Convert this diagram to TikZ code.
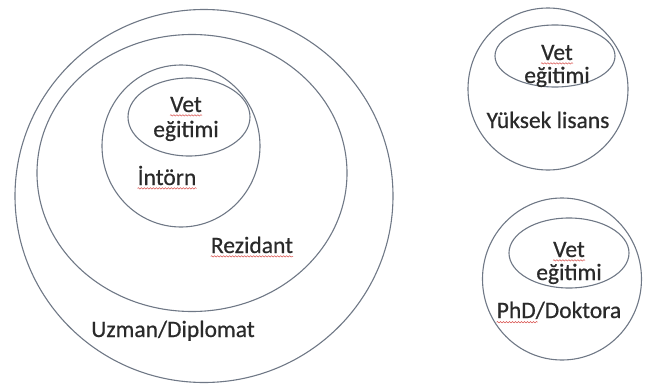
\documentclass[tikz,border=0pt]{standalone}
\usepackage{fontspec}
\setmainfont{Carlito}
\newfontfamily\lblfont{Carlito}[FakeBold=0.6]
\usetikzlibrary{shapes.geometric,decorations.pathmorphing}
\definecolor{ring}{HTML}{6F7886}
\definecolor{ink}{HTML}{2A2A2A}
\definecolor{squigred}{HTML}{D9534F}
\tikzset{
  ringshape/.style={ellipse, draw=ring, line width=1.1pt, inner sep=0pt},
  lbl/.style={font=\lblfont\fontsize{23.5}{25}\selectfont, text=ink, inner sep=0pt, anchor=base},
  squig/.style={draw=squigred, line width=0.5pt, decorate, decoration={snake, amplitude=0.7pt, segment length=3pt}}
}
\begin{document}
\begin{tikzpicture}[x=1pt,y=-1pt]
\useasboundingbox (0,0) rectangle (649,391);
% left nested rings
\node[ringshape, minimum width=378pt, minimum height=373pt] (uzman) at (204,196) {};
\node[ringshape, minimum width=310pt, minimum height=277pt] (rez) at (192,173) {};
\node[ringshape, minimum width=158pt, minimum height=162pt] (int) at (181,146) {};
\node[ringshape, minimum width=122pt, minimum height=78pt] (vetL) at (189,117) {};
\node[lbl] (vet1) at (186,112) {Vet};
\node[lbl] (egit1) at (186,137) {eğitimi};
\node[lbl] (intorn) at (167,185) {İntörn};
\node[lbl] (rezl) at (252,253) {Rezidant};
\node[lbl] (uzl) at (173,337) {Uzman/Diplomat};
% top right
\node[ringshape, minimum width=160pt, minimum height=162pt] (yl) at (548,89) {};
\node[ringshape, minimum width=120pt, minimum height=62pt] (vetT) at (555,56) {};
\node[lbl] (vet2) at (557,60) {Vet};
\node[lbl] (egit2) at (557,83) {eğitimi};
\node[lbl] (yll) at (548,128) {Yüksek lisans};
% bottom right
\node[ringshape, minimum width=159pt, minimum height=162pt] (phd) at (562,279) {};
\node[ringshape, minimum width=120pt, minimum height=70pt] (vetB) at (569,253) {};
\node[lbl] (vet3) at (569,257) {Vet};
\node[lbl] (egit3) at (569,280) {eğitimi};
\node[lbl] (phdl) at (559,318) {PhD/Doktora};
% spell-check underlines
\foreach \w in {vet1,vet2,vet3,intorn,rezl}{
  \draw[squig] ([yshift=-3pt]\w.south west) -- ([yshift=-3pt]\w.south east);
}
\draw[squig] ([yshift=-3pt]phdl.south west) -- ++(41,0);
\end{tikzpicture}
\end{document}
